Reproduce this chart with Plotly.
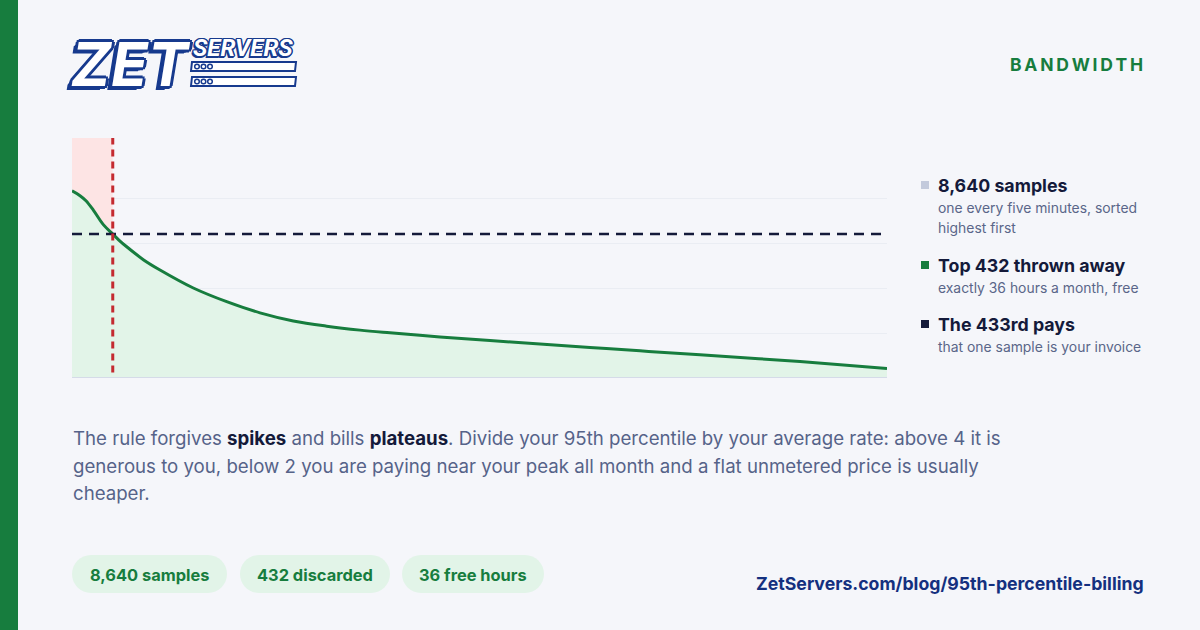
import plotly.graph_objects as go

# ---------------- data ----------------
sample_index = [0, 85, 148, 226, 332, 432, 500, 580, 760, 933, 1286, 1640, 1993, 2346,
                2700, 3053, 3371, 3901, 4431, 4961, 5491, 6022, 6658, 7718, 8640]
bandwidth = [1.04, 1.013, 0.985, 0.933, 0.852, 0.80, 0.765, 0.729, 0.656, 0.60, 0.50,
             0.424, 0.362, 0.317, 0.288, 0.266, 0.251, 0.228, 0.208, 0.189, 0.170,
             0.151, 0.129, 0.091, 0.053]
total_samples = 8640
discarded = 432
p95_level = 0.80
grid_levels = [0.25, 0.5, 0.75, 1.0]

legend_titles = ["8,640 samples", "Top 432 thrown away", "The 433rd pays"]
legend_subtitles = [["one every five minutes, sorted", "highest first"],
                    ["exactly 36 hours a month, free"],
                    ["that one sample is your invoice"]]
legend_colors = ["#c3cadc", "#177d3e", "#141a3a"]

pill_labels = ["8,640 samples", "432 discarded", "36 free hours"]

body_lines = [
    "The rule forgives <b><span style='color:#141a3a'>spikes</span></b> and bills "
    "<b><span style='color:#141a3a'>plateaus</span></b>. Divide your 95th percentile by your average rate: above 4 it is",
    "generous to you, below 2 you are paying near your peak all month and a flat unmetered price is usually",
    "cheaper.",
]
section_label = "BANDWIDTH"
url_text = "ZetServers.com/blog/95th-percentile-billing"

# ---------------- layout geometry ----------------
W, H = 1200, 630
L, R, T, B = 72, 313, 138, 252
PW, PH = W - L - R, H - T - B
YMAX = 240 / 180

BG = "#f5f6fa"
GREEN = "#177d3e"
NAVY = "#141a3a"
LOGO = "#173a8e"
MUTED = "#5a6689"
FONT = "Inter"


def X(px):
    return (px - L) / PW


def Y(py):
    return (H - B - py) / PH


def rounded_path(x0, y0, x1, y1, r):
    k = 0.5523 * r

    def p(x, y):
        return f"{X(x):.5f},{Y(y):.5f}"
    s = f"M {p(x0 + r, y0)} L {p(x1 - r, y0)} "
    s += f"C {p(x1 - r + k, y0)} {p(x1, y0 + r - k)} {p(x1, y0 + r)} "
    s += f"L {p(x1, y1 - r)} "
    s += f"C {p(x1, y1 - r + k)} {p(x1 - r + k, y1)} {p(x1 - r, y1)} "
    s += f"L {p(x0 + r, y1)} "
    s += f"C {p(x0 + r - k, y1)} {p(x0, y1 - r + k)} {p(x0, y1 - r)} "
    s += f"L {p(x0, y0 + r)} "
    s += f"C {p(x0, y0 + r - k)} {p(x0 + r - k, y0)} {p(x0 + r, y0)} Z"
    return s


fig = go.Figure()

fig.add_trace(go.Scatter(
    x=sample_index, y=bandwidth, mode="lines",
    line=dict(color=GREEN, width=3, shape="spline", smoothing=1.0),
    fill="tozeroy", fillcolor="#e2f4e8", hoverinfo="skip", showlegend=False,
))

shapes = []
annotations = []

# left green strip
shapes.append(dict(type="rect", xref="paper", yref="paper",
                   x0=X(0), x1=X(18), y0=Y(H), y1=Y(0),
                   fillcolor="#177d3e", line=dict(width=0), layer="below"))
# discarded region (pink)
shapes.append(dict(type="rect", xref="x", yref="y", x0=0, x1=discarded,
                   y0=0, y1=YMAX, fillcolor="#fde4e4", line=dict(width=0),
                   layer="between"))
# baseline
shapes.append(dict(type="line", xref="x", yref="y", x0=0, x1=total_samples,
                   y0=0, y1=0, line=dict(color="#d5dbe8", width=2), layer="above"))
# p95 dashed horizontal
shapes.append(dict(type="line", xref="x", yref="y", x0=0, x1=total_samples,
                   y0=p95_level, y1=p95_level,
                   line=dict(color=NAVY, width=2.5, dash="10px,7px"), layer="above"))
# cutoff dashed vertical
shapes.append(dict(type="line", xref="x", yref="y", x0=discarded, x1=discarded,
                   y0=0.03, y1=YMAX,
                   line=dict(color="#c42a30", width=3, dash="7px,5px"), layer="above"))

# ---------------- logo ----------------
sh = LOGO
outline3 = ", ".join([f"{dx}px {dy}px 0 {sh}" for dx, dy in
                      [(3, 0), (-3, 0), (0, 3), (0, -3), (2, 2), (-2, 2), (2, -2), (-2, -2),
                       (-3, 3), (-4, 3), (-5, 4)]])
outline2 = ", ".join([f"{dx}px {dy}px 0 {sh}" for dx, dy in
                      [(1.5, 0), (-1.5, 0), (0, 1.5), (0, -1.5), (1, 1), (-1, 1), (1, -1), (-1, -1),
                       (-2, 2)]])
annotations.append(dict(xref="paper", yref="paper", x=X(131), y=Y(64),
                        text="<b>ZET</b>", showarrow=False, xanchor="center", yanchor="middle",
                        font=dict(family=FONT, size=60, color="white", weight=900,
                                  style="italic", shadow=outline3)))
annotations.append(dict(xref="paper", yref="paper", x=X(243), y=Y(48),
                        text="<b>SERVERS</b>", showarrow=False, xanchor="center", yanchor="middle",
                        font=dict(family="Roboto", size=24, color="white", weight=900,
                                  style="italic", shadow=outline2)))
for (ry0, ry1) in [(62, 71), (77, 86)]:
    shapes.append(dict(type="path", xref="paper", yref="paper",
                       path=(f"M {X(191):.5f},{Y(ry1):.5f} L {X(192):.5f},{Y(ry0):.5f} "
                             f"L {X(296):.5f},{Y(ry0):.5f} L {X(295):.5f},{Y(ry1):.5f} Z"),
                       fillcolor="white", line=dict(color=LOGO, width=2), layer="above"))
    for cx in [197, 203.5, 210]:
        cy = (ry0 + ry1) / 2
        shapes.append(dict(type="circle", xref="paper", yref="paper",
                           x0=X(cx - 2.3), x1=X(cx + 2.3), y0=Y(cy + 2.3), y1=Y(cy - 2.3),
                           fillcolor="white", line=dict(color=LOGO, width=1.5), layer="above"))

# section label
annotations.append(dict(xref="paper", yref="paper", x=X(1145), y=Y(64),
                        text="<b>" + "\u2009".join(section_label) + "</b>",
                        showarrow=False, xanchor="right", yanchor="middle",
                        font=dict(family=FONT, size=17.5, color=GREEN)))

# ---------------- legend ----------------
title_y = [185, 265, 324]
for i, (t, subs, c) in enumerate(zip(legend_titles, legend_subtitles, legend_colors)):
    ty = title_y[i]
    shapes.append(dict(type="rect", xref="paper", yref="paper",
                       x0=X(921), x1=X(929), y0=Y(ty + 4), y1=Y(ty - 4),
                       fillcolor=c, line=dict(width=0), layer="above"))
    annotations.append(dict(xref="paper", yref="paper", x=X(936), y=Y(ty),
                            text=f"<b>{t}</b>", showarrow=False, xanchor="left",
                            yanchor="middle", font=dict(family=FONT, size=17.8, color=NAVY)))
    for j, s in enumerate(subs):
        annotations.append(dict(xref="paper", yref="paper", x=X(936), y=Y(ty + 23 + 19.5 * j),
                                text=s, showarrow=False, xanchor="left", yanchor="middle",
                                font=dict(family=FONT, size=13.9, color=MUTED)))

# ---------------- body ----------------
for j, line in enumerate(body_lines):
    annotations.append(dict(xref="paper", yref="paper", x=X(71), y=Y(438 + 27.5 * j),
                            text=line, showarrow=False, xanchor="left", yanchor="middle",
                            font=dict(family=FONT, size=18.65, color="#566389")))

# ---------------- pills ----------------
pill_x = [(72, 227), (240, 390), (402, 544)]
for (x0, x1), lab in zip(pill_x, pill_labels):
    shapes.append(dict(type="path", xref="paper", yref="paper",
                       path=rounded_path(x0, 555, x1, 593, 19),
                       fillcolor="#e2f4e8", line=dict(width=0), layer="above"))
    annotations.append(dict(xref="paper", yref="paper", x=X((x0 + x1) / 2), y=Y(575),
                            text=f"<b>{lab}</b>", showarrow=False, xanchor="center",
                            yanchor="middle", font=dict(family=FONT, size=16.4, color=GREEN)))

# url
annotations.append(dict(xref="paper", yref="paper", x=X(1146), y=Y(583),
                        text=f"<b>{url_text}</b>", showarrow=False, xanchor="right",
                        yanchor="middle", font=dict(family=FONT, size=17.7, color="#14307f")))

fig.update_layout(
    width=W, height=H,
    margin=dict(l=L, r=R, t=T, b=B, pad=0),
    paper_bgcolor=BG, plot_bgcolor=BG,
    font=dict(family=FONT),
    showlegend=False,
    xaxis=dict(range=[0, total_samples], showgrid=False, zeroline=False,
               showticklabels=False, showline=False, fixedrange=True),
    yaxis=dict(range=[0, YMAX], tickvals=grid_levels, showgrid=True,
               gridcolor="#eaedf3", gridwidth=1, zeroline=False,
               showticklabels=False, showline=False, fixedrange=True),
    shapes=shapes,
    annotations=annotations,
)

fig.write_html(
    "out.html",
    config={"displayModeBar": False},
    post_script="document.body.style.margin='0';document.body.style.padding='0';"
                "document.body.style.background='#f5f6fa';",
)
